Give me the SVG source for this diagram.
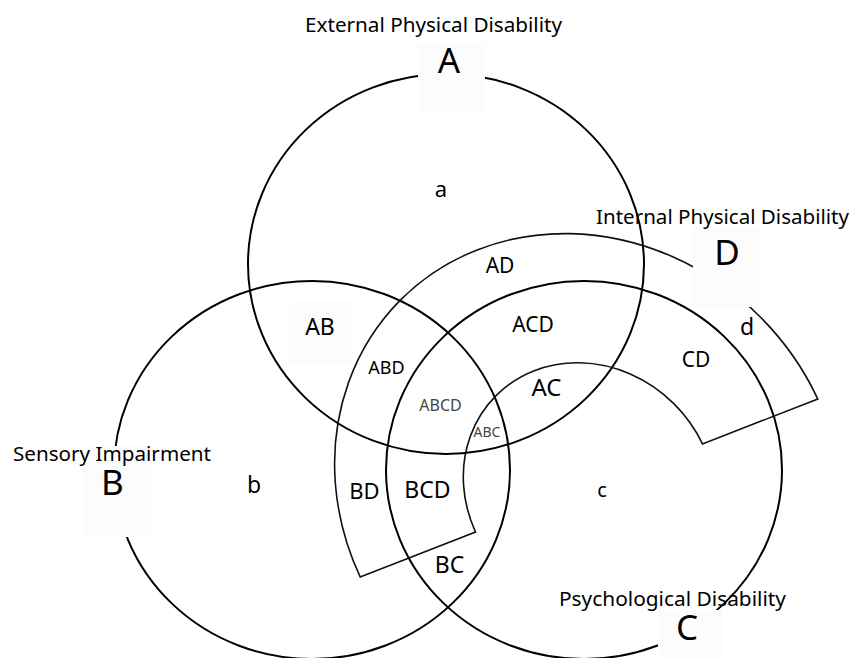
<svg xmlns="http://www.w3.org/2000/svg" width="853" height="658" viewBox="0 0 853 658">
<style>
.set{fill:none;stroke:#000;stroke-width:2}
.band{fill:none;stroke:#111;stroke-width:1.6}
.box{fill:#fcfcfc;stroke:none}
text{font-family:"Noto Sans","Open Sans","DejaVu Sans",sans-serif;fill:#000;text-anchor:middle}
.title{font-size:19px}
.big{font-size:35px}
.lbl{font-size:22px}
.small{font-size:18px}
.tiny{fill:#444}
</style>
<rect width="853" height="658" fill="#fff"/>
<g id="setA">
<ellipse class="set" cx="446" cy="264" rx="198" ry="190"/>
</g>
<g id="setB">
<ellipse class="set" cx="312" cy="470" rx="198" ry="189"/>
</g>
<g id="setC">
<ellipse class="set" cx="584" cy="470" rx="198" ry="189"/>
</g>
<g id="setD">
<path class="band" vector-effect="non-scaling-stroke" transform="translate(589 488) rotate(45) scale(1.1 1)" d="M -89.9 224.7 A 242 242 0 0 1 89.9 -224.7 L 44.6 -111.4 A 120 120 0 0 0 -44.6 111.4 Z"/>
</g>
<g id="labelA">
<rect class="box" x="418" y="43" width="67" height="70"/>
<text class="title" x="433.5" y="32" textLength="257" lengthAdjust="spacingAndGlyphs">External Physical Disability</text>
<text class="big" x="449" y="73">A</text>
</g>
<g id="labelB">
<rect class="box" x="85" y="446" width="67" height="91"/>
<text class="title" x="112" y="461" textLength="198" lengthAdjust="spacingAndGlyphs">Sensory Impairment</text>
<text class="big" x="112.5" y="495">B</text>
</g>
<g id="labelC">
<rect class="box" x="658" y="610" width="64" height="48"/>
<text class="title" x="672.5" y="606" textLength="227" lengthAdjust="spacingAndGlyphs">Psychological Disability</text>
<text class="big" x="687" y="640">C</text>
</g>
<g id="labelD">
<rect class="box" x="693" y="226" width="67" height="81"/>
<text class="title" x="722.5" y="224" textLength="253" lengthAdjust="spacingAndGlyphs">Internal Physical Disability</text>
<text class="big" x="727" y="265">D</text>
</g>
<g id="regions">
<rect class="box" x="289" y="302" width="64" height="63"/>
<text class="lbl" x="441" y="197">a</text>
<text class="lbl" x="254" y="493" style="font-size:23px">b</text>
<text class="lbl" x="602" y="497" style="font-size:20px">c</text>
<text class="lbl" x="747" y="335" style="font-size:23px">d</text>
<text class="lbl" x="500" y="273" style="font-size:21px">AD</text>
<text class="lbl" x="533" y="332" style="font-size:21px">ACD</text>
<text class="lbl" x="320" y="335" style="font-size:23px">AB</text>
<text class="small" x="386.5" y="374">ABD</text>
<text class="tiny" x="440.5" y="411" style="font-size:16px">ABCD</text>
<text class="tiny" x="487" y="437" style="font-size:14px">ABC</text>
<text class="lbl" x="546.5" y="396" style="font-size:24px">AC</text>
<text class="lbl" x="696" y="367" style="font-size:21px">CD</text>
<text class="lbl" x="364.5" y="499">BD</text>
<text class="lbl" x="427.5" y="498" style="font-size:23px">BCD</text>
<text class="lbl" x="449.5" y="573" style="font-size:23px">BC</text>
</g>
</svg>
